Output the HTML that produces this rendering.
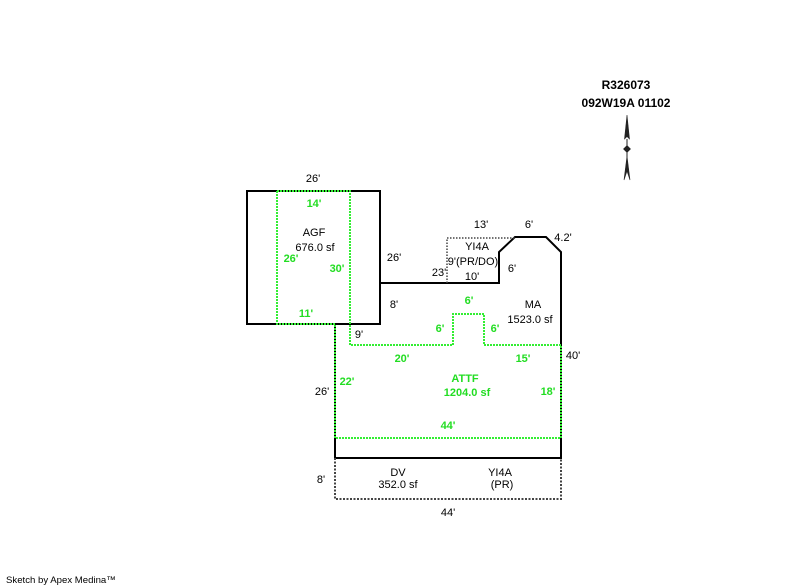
<!DOCTYPE html>
<html><head><meta charset="utf-8"><style>
html,body{margin:0;padding:0;background:#fff;}
svg{display:block;}
text{font-family:"Liberation Sans",Arial,sans-serif;font-size:11px;fill:#000;text-anchor:middle;}
.g{fill:#22dd22;font-weight:bold;}
.t{font-weight:bold;font-size:12px;}
</style></head><body>
<svg width="800" height="587" viewBox="0 0 800 587" xmlns="http://www.w3.org/2000/svg">
<rect width="800" height="587" fill="#fff"/>
<g fill="none" stroke="#000" stroke-width="2">
<rect x="247" y="191" width="133" height="133"/>
<polyline points="380,283 499,283 499,252 515,237 546,237 561,252 561,458 335,458 335,324"/>
</g>
<polyline points="447,283 447,238 515,238" fill="none" stroke="#444" stroke-width="1.5" stroke-dasharray="1.5 1.5"/>
<polyline points="335,458 335,499 561,499 561,458" fill="none" stroke="#444" stroke-width="2" stroke-dasharray="2 1.5"/>
<g fill="none" stroke="#33ee33" stroke-width="2" stroke-dasharray="2 1">
<polyline points="277,191 277,324 335,324"/>
<polyline points="277,191 350,191 350,345 453,345 453,314 484,314 484,345 561,345 561,438 335,438 335,324"/>
</g>
<g fill="#222" stroke="#222" stroke-width="0.6">
<polygon points="627,115 629.5,139 627,136.5 624.5,139"/>
<line x1="627" y1="139" x2="627" y2="158" stroke-width="1"/>
<polygon points="627,145.5 630.5,149 627,152.5 623.5,149"/>
<polygon points="627,156 630,180 627,171 624,180"/>
</g>
<text class="t" x="626" y="89">R326073</text>
<text class="t" x="626" y="107">092W19A 01102</text>
<text x="313" y="182">26'</text>
<text x="314" y="236">AGF</text>
<text x="315" y="251">676.0 sf</text>
<text x="394" y="261">26'</text>
<text x="394" y="308">8'</text>
<text x="359" y="338">9'</text>
<text x="481" y="228">13'</text>
<text x="529" y="228">6'</text>
<text x="563" y="241">4.2'</text>
<text x="477" y="250">YI4A</text>
<text x="473" y="265">9'(PR/DO)</text>
<text x="439" y="276">23'</text>
<text x="472" y="280">10'</text>
<text x="512" y="272">6'</text>
<text x="533" y="308">MA</text>
<text x="530" y="323">1523.0 sf</text>
<text x="573" y="359">40'</text>
<text x="322" y="395">26'</text>
<text x="398" y="476">DV</text>
<text x="398" y="488">352.0 sf</text>
<text x="500" y="476">YI4A</text>
<text x="502" y="488">(PR)</text>
<text x="321" y="483">8'</text>
<text x="448" y="516">44'</text>
<text class="g" x="314" y="207">14'</text>
<text class="g" x="291" y="262">26'</text>
<text class="g" x="337" y="272">30'</text>
<text class="g" x="306" y="317">11'</text>
<text class="g" x="469" y="304">6'</text>
<text class="g" x="440" y="332">6'</text>
<text class="g" x="495" y="332">6'</text>
<text class="g" x="402" y="362">20'</text>
<text class="g" x="523" y="362">15'</text>
<text class="g" x="347" y="385">22'</text>
<text class="g" x="465" y="382">ATTF</text>
<text class="g" x="467" y="396">1204.0 sf</text>
<text class="g" x="548" y="395">18'</text>
<text class="g" x="448" y="429">44'</text>
<text x="6" y="583" style="font-size:9.6px;text-anchor:start;">Sketch by Apex Medina™</text>
</svg>
</body></html>
